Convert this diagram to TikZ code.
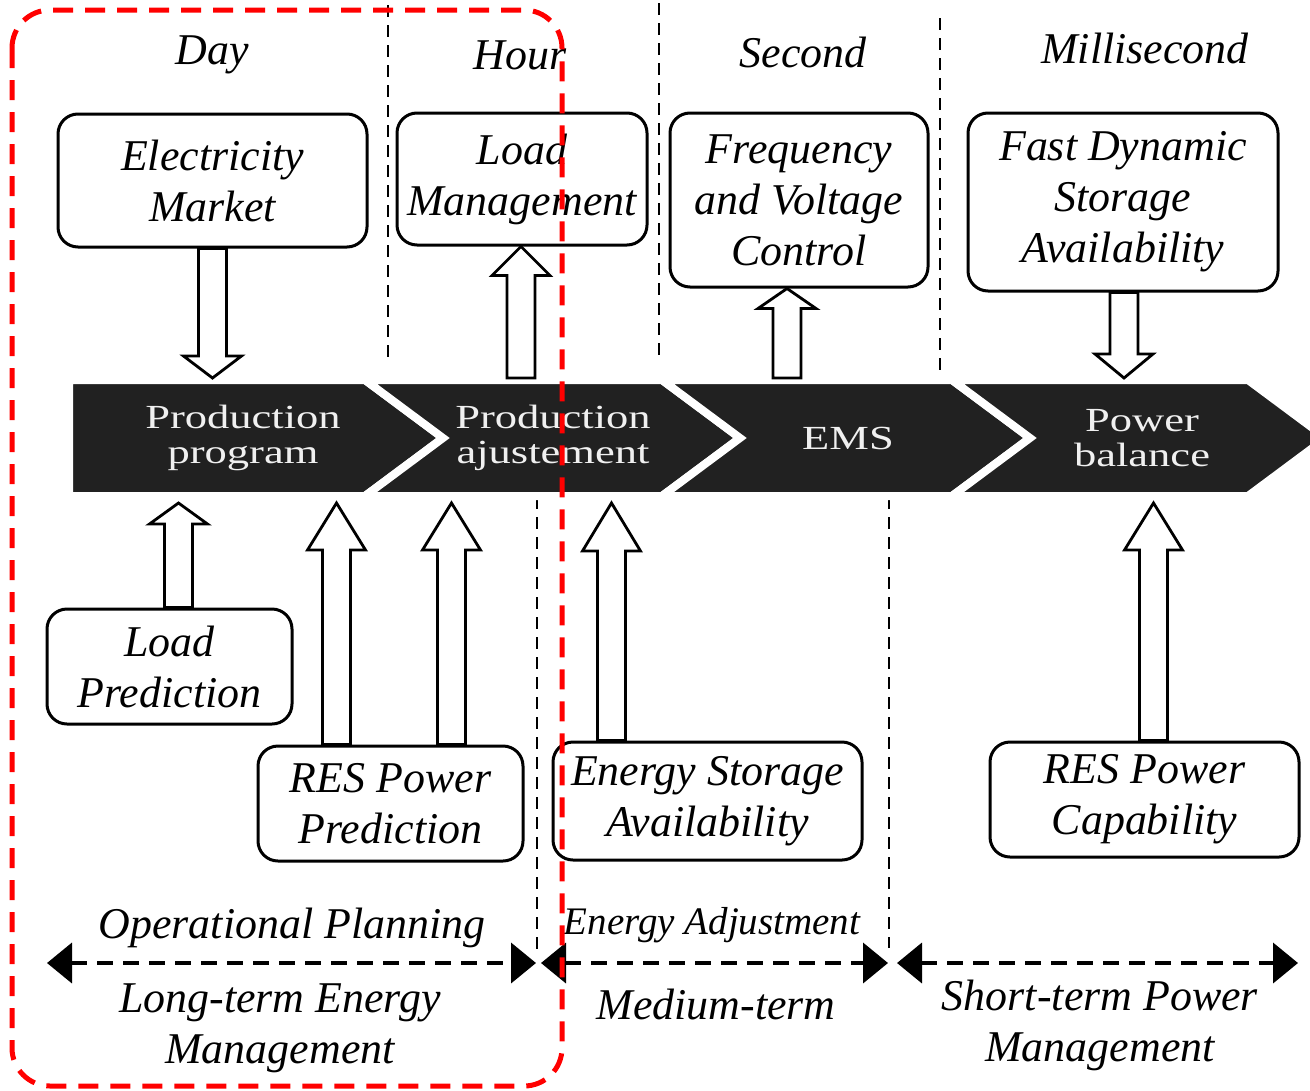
\documentclass[tikz,border=0pt]{standalone}
\usepackage{fontspec}
\usepackage{graphicx}
\setmainfont{Liberation Serif}
\usetikzlibrary{arrows.meta,calc,positioning}

% hollow block arrow: tail anchor, x offset, tip line, head length (signed)
\newcommand{\hollowarrow}[4]{%
  \coordinate (ha-t) at ($(#1)+(#2,0)$);
  \coordinate (ha-h) at (ha-t |- #3);
  \draw[hollow] ($(ha-t)+(-14,0)$) -- ($(ha-h)+(-14,#4)$) -- ($(ha-h)+(-29,#4)$) -- (ha-h)
    -- ($(ha-h)+(29,#4)$) -- ($(ha-h)+(14,#4)$) -- ($(ha-t)+(14,0)$) -- cycle;}
\newcommand{\wide}[1]{\scalebox{1.32}[1]{#1}}

\begin{document}
\begin{tikzpicture}[x=0.1mm,y=-0.1mm]
\tikzset{
  infobox/.style={draw=black,line width=0.3mm,rounded corners=2mm,fill=white,align=center,inner sep=0pt,font=\fontsize{12.5}{14.5}\selectfont\itshape},
  scalelabel/.style={align=center,inner sep=0pt,font=\fontsize{12.5}{14.5}\selectfont\itshape},
  stagelabel/.style={text=black!6,align=center,inner sep=0pt,font=\fontsize{9.6}{10}\selectfont},
  stage/.style={fill=black!87,draw=white,line width=0.8mm,line join=miter},
  hollow/.style={draw=black,line width=0.28mm,fill=white,line join=miter},
  divider/.style={draw=black,line width=0.25mm,dash pattern=on 1.2mm off 0.8mm},
  spanarrow/.style={draw=black,line width=0.4mm,dash pattern=on 1.6mm off 1mm,{Triangle[length=2.5mm,width=4mm]}-{Triangle[length=2.5mm,width=4mm]}},
  focusframe/.style={draw=red,line width=0.5mm,dash pattern=on 2mm off 1.2mm,rounded corners=3.8mm}
}
\clip (0,0) rectangle (1310,1090);

% time scale dividers
\draw[divider] (388,5) -- (388,360);
\draw[divider] (659,3) -- (659,360);
\draw[divider] (940,18) -- (940,375);
\draw[divider] (537,497) -- (537,955);
\draw[divider] (889,497) -- (889,948);

% stage band
\path[stage] (69,380) -- (365,380) -- (443,438) -- (365,496) -- (69,496) -- cycle;
\path[stage] (365,380) -- (662,380) -- (740,438) -- (662,496) -- (365,496) -- (443,438) -- cycle;
\path[stage] (662,380) -- (952,380) -- (1030,438) -- (952,496) -- (662,496) -- (740,438) -- cycle;
\path[stage] (952,380) -- (1248,380) -- (1326,438) -- (1248,496) -- (952,496) -- (1030,438) -- cycle;
\node[stagelabel] (prog) at (243,438) {\wide{Production}\\\wide{program}};
\node[stagelabel] (adj) at (553,438) {\wide{Production}\\\wide{ajustement}};
\node[stagelabel] (ems) at (848,438) {\wide{EMS}};
\node[stagelabel] (bal) at (1142,438) {\wide{Power}\\\wide{balance}};
\coordinate (bandN) at (0,378);
\coordinate (bandS) at (0,503);

% time scales
\node[scalelabel] (day) at (212,55) {Day};
\node[scalelabel] (hour) at (520,55) {Hour};
\node[scalelabel] (second) at (803,52) {Second};
\node[scalelabel] (milli) at (1145,48) {Millisecond};

% information boxes
\node[infobox,minimum width=30.9mm,minimum height=13.3mm] (em) at (212.5,180.5) {Electricity\\Market};
\node[infobox,minimum width=25mm,minimum height=13.2mm] (lm) at (522,179) {Load\\Management};
\node[infobox,minimum width=25.8mm,minimum height=17.4mm] (fv) at (799,200) {Frequency\\and Voltage\\Control};
\node[infobox,minimum width=31mm,minimum height=17.8mm] (fd) at (1123,202) {Fast Dynamic\\Storage\\Availability};
\node[infobox,minimum width=24.5mm,minimum height=11.5mm] (lp) at (169.5,666.5) {Load\\Prediction};
\node[infobox,minimum width=26.5mm,minimum height=11.5mm] (rp) at (390.5,803.5) {RES Power\\Prediction};
\node[infobox,minimum width=30.9mm,minimum height=11.8mm] (es) at (707.5,801) {Energy Storage\\Availability};
\node[infobox,minimum width=30.9mm,minimum height=11.5mm] (rc) at (1144.5,799.5) {RES Power\\Capability};

% block arrows
\hollowarrow{em.south}{0}{bandN}{-22}
\hollowarrow{bandN}{521}{lm.south}{29}
\hollowarrow{bandN}{787}{fv.south}{20}
\hollowarrow{fd.south}{1}{bandN}{-24}
\hollowarrow{lp.north}{9}{bandS}{21}
\hollowarrow{rp.north}{-54}{bandS}{47}
\hollowarrow{rp.north}{61}{bandS}{47}
\hollowarrow{es.north}{-96}{bandS}{48}
\hollowarrow{rc.north}{9}{bandS}{47}

% management horizons
\coordinate (h0) at (47,963);
\coordinate (h1) at (536,963);
\coordinate (h2) at (541,963);
\coordinate (h3) at (888,963);
\coordinate (h4) at (897,963);
\coordinate (h5) at (1298,963);
\draw[spanarrow] (h0) -- (h1);
\draw[spanarrow] (h2) -- (h3);
\draw[spanarrow] (h4) -- (h5);
\node[scalelabel] (oplan) at (292,928) {Operational Planning};
\node[scalelabel,font=\fontsize{11.1}{13}\selectfont\itshape] (eadj) at (712,925) {Energy Adjustment};
\node[scalelabel] (longterm) at (280,1028) {Long-term Energy\\Management};
\node[scalelabel] (medium) at (716,1004) {Medium-term};
\node[scalelabel] (shortterm) at (1100,1025) {Short-term Power\\Management};

% long-term focus
\draw[focusframe] (12,10) rectangle (562,1086);
\end{tikzpicture}
\end{document}
